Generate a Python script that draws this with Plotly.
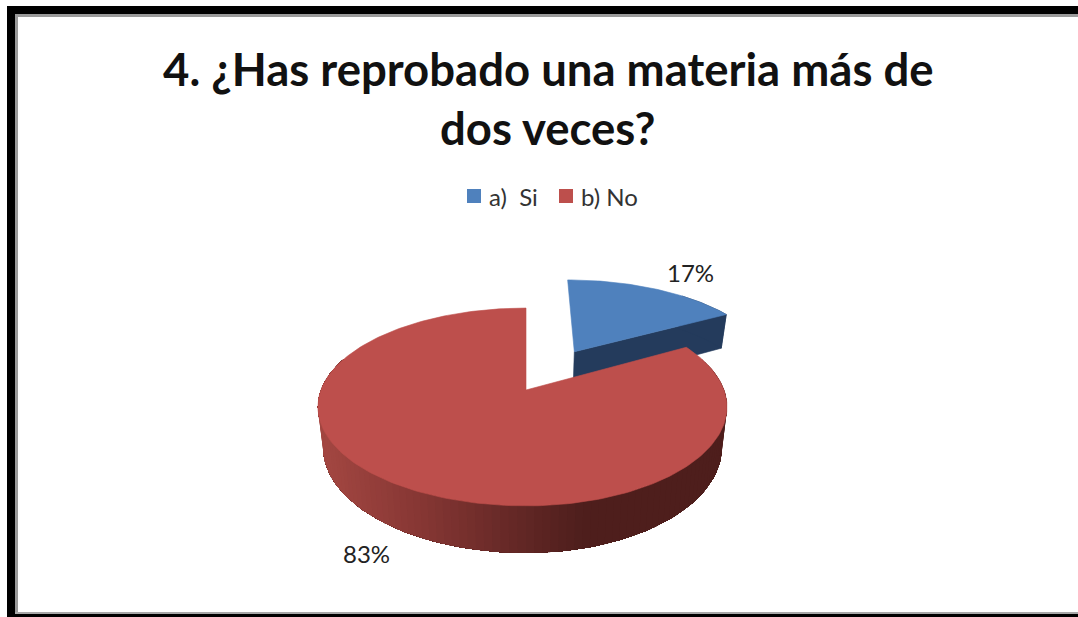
import numpy as np
import plotly.graph_objects as go

# Survey answers
categories = ["a)  Si", "b) No"]
values = [17, 83]
title_lines = ["4. ¿Has reprobado una materia más de", "dos veces?"]

TOP_COLORS = ["#4F81BD", "#BD4F4C"]
BLUE_SIDE = "#243B5C"

# Perspective camera for the tilted disc
WIDTH, HEIGHT = 1078, 617
CX, CY = 526, 390
DEPTH = 5.83
RY = 96
THICKNESS = 39
FONT = "Lato"


def project(X, Y, lower=False, rx_left=205, rx_right=198):
    """Map disc coordinates to the page, with nearer points drawn larger."""
    X, Y = np.asarray(X, float), np.asarray(Y, float)
    s = DEPTH / (DEPTH + Y)
    rx = np.where(X < 0, rx_left, rx_right)
    shrink = 0.975 if lower else 1.0
    px = CX + X * rx * s * shrink
    py = CY - RY * Y * s + (THICKNESS * s if lower else 0)
    return px, py


def side_color(x):
    stops = [325, 417, 500, 583]
    r = np.interp(x, stops, [162, 135, 105, 78])
    g = np.interp(x, stops, [70, 55, 42, 30])
    b = np.interp(x, stops, [65, 52, 40, 28])
    return f"rgb({r:.0f},{g:.0f},{b:.0f})"


def polygon(xs, ys, color, name=None, width=0.6):
    return go.Scatter(
        x=np.asarray(xs), y=np.asarray(ys), mode="lines", fill="toself",
        fillcolor=color, line=dict(color=color, width=width),
        hoverinfo="skip" if name is None else "name",
        name=name or "", showlegend=False,
    )


fig = go.Figure()

# Slice angles run clockwise from twelve o'clock
split = 2 * np.pi * values[0] / sum(values)
mid = split / 2
EXPLODE = 0.497
ox, oy = EXPLODE * np.sin(mid), EXPLODE * np.cos(mid)

# Pulled-out slice: cut wall and outer rim, then its top face
t_blue = np.linspace(0, split, 60)
bx, by = np.sin(t_blue) + ox, np.cos(t_blue) + oy
blue_kw = dict(rx_left=205, rx_right=205)
wx = [ox, bx[-1]]
wy = [oy, by[-1]]
x0, y0 = project(wx, wy, **blue_kw)
x1, y1 = project(wx, wy, lower=True, **blue_kw)
fig.add_trace(polygon(np.r_[x0, x1[::-1], x0[0]], np.r_[y0, y1[::-1], y0[0]], BLUE_SIDE))
x0, y0 = project(bx[40:], by[40:], **blue_kw)
x1, y1 = project(bx[40:], by[40:], lower=True, **blue_kw)
fig.add_trace(polygon(np.r_[x0, x1[::-1], x0[0]], np.r_[y0, y1[::-1], y0[0]], BLUE_SIDE))
px, py = project(np.r_[ox, bx, ox], np.r_[oy, by, oy], **blue_kw)
fig.add_trace(polygon(px, py, TOP_COLORS[0], categories[0]))

# Large slice: the rim is painted from its dark right end towards the left,
# each layer covering everything still to come, so no seams show between colours.
edges = np.radians(np.linspace(70, 290, 111))
rim_x, rim_y = project(np.sin(edges), np.cos(edges))
low_x, low_y = project(np.sin(edges), np.cos(edges), lower=True)
for i in range(len(edges) - 1):
    fig.add_trace(polygon(
        np.r_[rim_x[i:], low_x[i:][::-1], rim_x[i]],
        np.r_[rim_y[i:], low_y[i:][::-1], rim_y[i]],
        side_color(float(rim_x[i:i + 2].mean())), width=0,
    ))
t_red = np.linspace(split, 2 * np.pi, 240)
px, py = project(np.r_[0, np.sin(t_red), 0], np.r_[0, np.cos(t_red), 0])
fig.add_trace(polygon(px, py, TOP_COLORS[1], categories[1]))

# Legend swatches
fig.add_trace(go.Scatter(
    x=[474, 566], y=[196, 196], mode="markers", hoverinfo="skip", showlegend=False,
    marker=dict(symbol="square", size=14, color=TOP_COLORS, line=dict(width=0)),
))

title_font = dict(size=45.5, color="#111111", family=FONT, weight="bold")
legend_font = dict(size=24, color="#333333", family=FONT)
label_font = dict(size=24, color="#222222", family=FONT)
annotations = [
    dict(x=548, y=68, text=title_lines[0], font=title_font),
    dict(x=548, y=127, text=title_lines[1], font=title_font),
    dict(x=513.5, y=196, text=categories[0].replace("  ", "&nbsp;&nbsp;"), font=legend_font),
    dict(x=609.5, y=196, text=categories[1], font=legend_font),
    dict(x=690, y=272, text=f"{values[0]}%", font=label_font),
    dict(x=366, y=553, text=f"{values[1]}%", font=label_font),
]
for ann in annotations:
    ann.update(xref="x", yref="y", showarrow=False, xanchor="center", yanchor="middle")

# Window frame: heavy black with a thin grey inner edge; open on the right
shapes = []
for x0, x1, y0, y1, color in [
    (7, WIDTH, 6, 14, "#000000"),
    (7, 15, 6, HEIGHT, "#000000"),
    (15, WIDTH, 14, 17, "#9A9A9A"),
    (15, 18, 14, 614, "#9A9A9A"),
    (15, WIDTH, 612, 614, "#A8A8A8"),
    (7, WIDTH, 614, HEIGHT, "#000000"),
]:
    shapes.append(dict(type="rect", xref="x", yref="y", x0=x0, x1=x1, y0=y0, y1=y1,
                       fillcolor=color, line=dict(width=0), layer="below"))

hidden = dict(visible=False, fixedrange=True)
fig.update_layout(
    width=WIDTH, height=HEIGHT, margin=dict(l=0, r=0, t=0, b=0, pad=0),
    paper_bgcolor="white", plot_bgcolor="white",
    xaxis=dict(range=[0, WIDTH], **hidden),
    yaxis=dict(range=[HEIGHT, 0], **hidden),
    annotations=annotations, shapes=shapes, showlegend=False,
)
fig.write_html("out.html", config=dict(displayModeBar=False))
